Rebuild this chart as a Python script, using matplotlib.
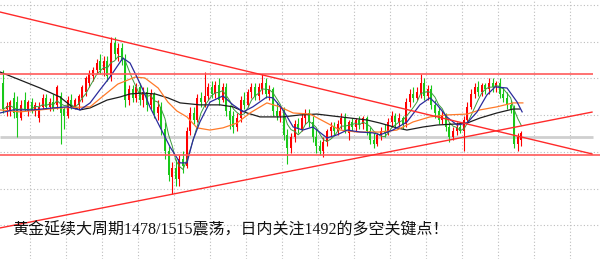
import numpy as np
import pandas as pd
import matplotlib
matplotlib.use('Agg')
import matplotlib.pyplot as plt

plt.rcParams['font.family'] = ['Noto Sans CJK SC', 'DejaVu Sans']

# candles (gold, hourly-ish)
opens = [1511, 1499, 1498, 1504, 1502, 1495, 1503, 1498, 1502, 1498,
         1495, 1500, 1504, 1500, 1502, 1501, 1505, 1499, 1496, 1503,
         1500, 1501, 1504, 1507, 1511, 1514, 1517, 1521, 1517, 1521,
         1514, 1529, 1524, 1527, 1522, 1503, 1508, 1504, 1509, 1503,
         1507, 1501, 1506, 1497, 1500, 1490, 1480, 1468, 1472, 1467,
         1476, 1473, 1489, 1497, 1494, 1504, 1502, 1505, 1509, 1506,
         1510, 1503, 1509, 1498, 1496, 1491, 1495, 1503, 1501, 1507,
         1509, 1505, 1508, 1511, 1506, 1508, 1498, 1496, 1498, 1487,
         1481, 1486, 1492, 1490, 1495, 1497, 1493, 1486, 1482, 1480,
         1484, 1489, 1491, 1489, 1492, 1495, 1488, 1493, 1491, 1494,
         1492, 1495, 1489, 1485, 1483, 1487, 1489, 1488, 1493, 1496,
         1493, 1495, 1492, 1502, 1506, 1504, 1506, 1511, 1505, 1508,
         1501, 1498, 1494, 1496, 1491, 1486, 1489, 1491, 1489, 1494,
         1500, 1506, 1509, 1507, 1510, 1508, 1511, 1509, 1511, 1506,
         1504, 1501, 1499, 1483, 1485]
highs = [1517, 1502, 1503, 1507, 1505, 1503, 1507, 1503, 1504, 1502,
         1502, 1506, 1506, 1504, 1506, 1510, 1507, 1500, 1505, 1506,
         1504, 1506, 1510, 1514, 1517, 1518, 1522, 1524, 1523, 1523,
         1532, 1532, 1529, 1529, 1524, 1510, 1510, 1511, 1511, 1509,
         1509, 1508, 1507, 1503, 1502, 1493, 1482, 1475, 1476, 1478,
         1480, 1491, 1500, 1500, 1506, 1507, 1516, 1511, 1512, 1512,
         1513, 1511, 1511, 1501, 1498, 1497, 1505, 1507, 1508, 1511,
         1511, 1511, 1515, 1513, 1510, 1509, 1502, 1500, 1500, 1490,
         1488, 1494, 1495, 1497, 1499, 1499, 1496, 1490, 1485, 1486,
         1490, 1493, 1493, 1494, 1497, 1497, 1494, 1495, 1495, 1496,
         1496, 1496, 1491, 1488, 1488, 1491, 1492, 1495, 1498, 1497,
         1497, 1496, 1504, 1508, 1509, 1509, 1515, 1513, 1510, 1510,
         1503, 1500, 1498, 1497, 1493, 1491, 1493, 1492, 1496, 1502,
         1508, 1511, 1512, 1511, 1511, 1513, 1513, 1512, 1513, 1509,
         1507, 1503, 1501, 1488, 1489]
lows = [1497, 1496, 1496, 1495, 1486, 1494, 1498, 1496, 1497, 1496,
        1493, 1499, 1499, 1498, 1498, 1499, 1483, 1490, 1495, 1499,
        1499, 1499, 1502, 1505, 1509, 1512, 1515, 1515, 1514, 1512,
        1512, 1522, 1521, 1519, 1500, 1501, 1502, 1502, 1501, 1500,
        1498, 1499, 1495, 1494, 1487, 1476, 1466, 1460, 1464, 1464,
        1470, 1472, 1487, 1492, 1493, 1500, 1500, 1503, 1504, 1504,
        1501, 1502, 1496, 1490, 1488, 1489, 1493, 1499, 1500, 1504,
        1503, 1503, 1506, 1504, 1503, 1496, 1494, 1493, 1485, 1474,
        1479, 1484, 1488, 1489, 1492, 1491, 1484, 1479, 1478, 1477,
        1482, 1486, 1487, 1487, 1490, 1488, 1485, 1489, 1489, 1490,
        1490, 1487, 1483, 1481, 1482, 1485, 1486, 1487, 1491, 1491,
        1491, 1490, 1491, 1500, 1502, 1503, 1504, 1503, 1503, 1499,
        1495, 1492, 1492, 1489, 1484, 1485, 1487, 1488, 1480, 1493,
        1499, 1504, 1505, 1505, 1506, 1506, 1507, 1507, 1504, 1502,
        1499, 1497, 1481, 1480, 1482]
closes = [1499, 1500.5, 1502, 1497, 1495, 1501, 1499, 1502, 1498, 1501,
          1500, 1504, 1500, 1502, 1499, 1509, 1497, 1496, 1503, 1500,
          1503, 1505, 1509, 1513, 1515, 1517, 1520, 1517, 1521, 1514,
          1529, 1524, 1527, 1521, 1503, 1508, 1504, 1509, 1503, 1507,
          1501, 1506, 1497, 1500, 1490, 1480, 1469, 1472, 1467, 1476,
          1473, 1489, 1497, 1494, 1504, 1502, 1505, 1509, 1506, 1510,
          1503, 1509, 1498, 1494, 1491, 1495, 1503, 1501, 1507, 1509,
          1505, 1509, 1511, 1506, 1508, 1498, 1496, 1498, 1487, 1481,
          1486, 1492, 1490, 1495, 1497, 1493, 1486, 1482, 1480, 1484,
          1489, 1491, 1489, 1492, 1495, 1489, 1493, 1491, 1494, 1492,
          1495, 1489, 1485, 1483, 1487, 1489, 1488, 1493, 1496, 1493,
          1495, 1492, 1502, 1506, 1504, 1507, 1511, 1505, 1508, 1501,
          1497, 1494, 1496, 1491, 1486, 1489, 1491, 1489, 1494, 1500,
          1506, 1509, 1507, 1510, 1508, 1511, 1509, 1511, 1506, 1504,
          1501, 1499, 1483, 1486, 1488]

# moving averages read as points (bar index, price)
ma_blue_x = [-0.8, 2.8, 8.3, 13.9, 17.8, 21.4, 24.2, 26.9, 29.7, 33.3, 35.3, 37.2,
             38.9, 40.8, 43.6, 46.4, 49.2, 51.1, 52.8, 54.7, 57.5, 61.1, 63.9, 66.7,
             69.4, 73.3, 75.0, 77.8, 80.6, 83.3, 86.1, 90.0, 92.8, 95.6, 99.2, 102.8,
             104.7, 108.3, 112.2, 115.8, 118.6, 120.6, 123.3, 126.1, 128.9, 131.7,
             134.4, 136.7, 140.0, 142.8, 144.2]
ma_blue_y = [1497.2, 1498.6, 1498.6, 1499.5, 1500.0, 1498.6, 1501.8, 1507.7, 1513.6,
             1522.3, 1520.0, 1513.6, 1507.7, 1500.0, 1490.8, 1481.7, 1474.4, 1474.4,
             1484.9, 1493.1, 1502.2, 1505.0, 1500.9, 1497.7, 1500.0, 1504.5, 1504.1,
             1498.6, 1490.8, 1489.4, 1490.8, 1485.8, 1487.2, 1489.4, 1488.5, 1488.1,
             1487.2, 1489.4, 1493.1, 1500.9, 1504.1, 1500.9, 1495.4, 1491.7, 1492.6,
             1497.7, 1505.4, 1509.1, 1508.6, 1502.2, 1497.7]
ma_orange_x = [-0.8, 4.7, 10.3, 15.8, 24.2, 27.5, 31.9, 36.7, 39.4, 43.1, 45.8, 48.3,
               51.1, 53.9, 57.5, 61.1, 65.0, 68.6, 73.3, 76.9, 80.6, 85.3, 90.0, 93.6,
               98.3, 104.7, 109.4, 113.9, 118.6, 123.3, 128.9, 132.5, 137.2, 141.7, 144.4]
ma_orange_y = [1498.6, 1497.7, 1498.6, 1499.5, 1500.0, 1504.5, 1510.4, 1513.6, 1513.2,
               1508.6, 1502.2, 1498.1, 1495.4, 1490.4, 1489.4, 1490.4, 1492.6, 1497.2,
               1501.8, 1500.0, 1497.2, 1496.7, 1492.6, 1489.4, 1488.5, 1488.5, 1489.4,
               1493.1, 1495.4, 1496.3, 1496.7, 1498.6, 1500.0, 1501.8, 1501.8]
ma_black_x = [-0.8, 4.7, 10.3, 15.8, 19.2, 21.4, 24.2, 28.9, 32.5, 35.3, 38.6, 42.2,
              45.8, 49.2, 54.7, 60.3, 63.9, 67.8, 71.4, 77.8, 82.5, 87.2, 91.7, 96.4,
              101.1, 104.7, 109.4, 112.2, 116.7, 120.6, 126.1, 128.9, 132.5, 137.2,
              141.7, 143.6]
ma_black_y = [1515.9, 1512.3, 1508.6, 1504.5, 1500.0, 1498.6, 1499.5, 1503.1, 1504.5,
              1505.9, 1506.3, 1505.9, 1504.1, 1501.8, 1500.9, 1500.9, 1500.0, 1497.2,
              1495.4, 1495.4, 1496.3, 1496.7, 1495.8, 1494.9, 1494.0, 1492.6, 1490.4,
              1489.4, 1490.8, 1491.7, 1492.2, 1492.6, 1494.9, 1497.2, 1499.0, 1499.0]

# levels and trend lines
resistance = 1515
support = 1478
bid = 1486.2
trend_down = ([-0.8, 163.6], [1543.3, 1478.5])
trend_up = ([-0.8, 163.6], [1444.7, 1497.6])
grid_prices = [1546.5, 1529.7, 1513.0, 1496.2, 1479.5, 1462.7, 1446.0]
grid_bars = np.arange(7.5, 166, 10)

title = '黄金延续大周期1478/1515震荡，日内关注1492的多空关键点！'

fig = plt.figure(figsize=(6, 2.59), dpi=100)
ax = fig.add_axes([0, 0, 1, 1])
ax.set_xlim(-0.83, 165.83)
ax.set_ylim(1430.5, 1548.8)
ax.axis('off')

for g in grid_prices:
    ax.axhline(g, color='#bdbdbd', lw=0.8, ls=(0, (1, 2)), zorder=0)
for g in grid_bars:
    ax.axvline(g, color='#bdbdbd', lw=0.8, ls=(0, (1, 2)), zorder=0)

o = np.array(opens, dtype=float)
h = np.array(highs, dtype=float)
l = np.array(lows, dtype=float)
c = np.array(closes, dtype=float)
idx = np.arange(len(c))
up = c >= o
cols = np.where(up, '#ff0000', '#19c819')

ax.vlines(idx, l, h, colors=cols, lw=0.8, zorder=2)
body_h = np.maximum(np.abs(c - o), 0.4)
ax.bar(idx, body_h, bottom=np.minimum(o, c), width=0.6, color=cols, lw=0, zorder=3)

ma5 = pd.Series(c).rolling(5, min_periods=1).mean()
ax.plot(idx, ma5, color='#3c9a3c', lw=0.7, zorder=4)
ax.plot(ma_black_x, ma_black_y, color='#1e1e1e', lw=0.9, zorder=4)
ax.plot(ma_orange_x, ma_orange_y, color='#ff7a2a', lw=0.9, zorder=4)
ax.plot(ma_blue_x, ma_blue_y, color='#2b2b9c', lw=0.9, zorder=4)

ax.hlines(bid, -0.83, 163.8, color='#cfcfcf', lw=2, zorder=1)
ax.hlines(resistance, -0.83, 163.8, color='#ff5a5a', lw=1.2, zorder=5)
ax.hlines(support, -0.83, 165.83, color='#ff5a5a', lw=1.2, zorder=5)
ax.plot(*trend_down, color='#ff2a2a', lw=1, zorder=5)
ax.plot(*trend_up, color='#ff2a2a', lw=1, zorder=5)

# serif digits like the original caption, CJK glyphs fall back to Noto
fig.text(12 / 600, 1 - 230 / 259, title, fontsize=11.5, color='#111111',
         va='center', ha='left', family=['Liberation Serif', 'Noto Sans CJK SC'])

fig.savefig('out.png', dpi=100)
